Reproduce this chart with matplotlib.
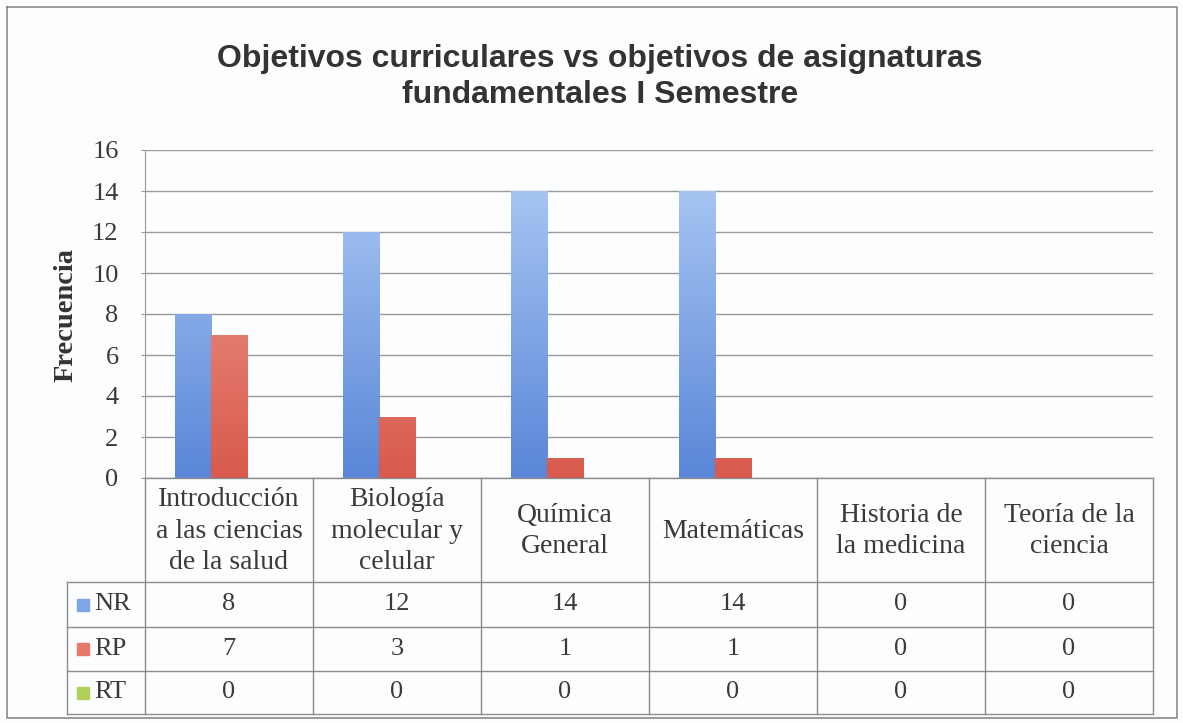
import matplotlib
matplotlib.use("Agg")
import matplotlib.pyplot as plt
import numpy as np
from matplotlib.colors import LinearSegmentedColormap

categories = ["Introducción\na las ciencias\nde la salud", "Biología\nmolecular y\ncelular",
              "Química\nGeneral", "Matemáticas", "Historia de\nla medicina", "Teoría de la\nciencia"]
series_names = ["NR", "RP", "RT"]
NR = [8, 12, 14, 14, 0, 0]
RP = [7, 3, 1, 1, 0, 0]
RT = [0, 0, 0, 0, 0, 0]
yticks = [0, 2, 4, 6, 8, 10, 12, 14, 16]
title = "Objetivos curriculares vs objetivos de asignaturas\nfundamentales I Semestre"
ylabel = "Frecuencia"

W, H = 1183, 723
bg = "#fbfdfe"
fig = plt.figure(figsize=(W / 100, H / 100), dpi=100, facecolor=bg)

def fx(px):
    return px / W

def fy(py):
    return 1 - py / H

serif = ["Liberation Serif", "DejaVu Serif"]
txtcol = "#3a3a3a"
gridcol = "#9a9a9a"

L, R, T, B = 145, 1153, 150, 478
ax = fig.add_axes([fx(L), fy(B), fx(R) - fx(L), fy(T) - fy(B)])
ax.set_facecolor(bg)
ax.set_xlim(-0.5, 5.5)
ax.set_ylim(0, 16)
ax.set_yticks(yticks)
ax.set_yticklabels([str(v) for v in yticks], fontfamily=serif, fontsize=19, color=txtcol)
ax.set_xticks([])
ax.tick_params(axis="y", length=3, color=gridcol, pad=16)
for s in ["top", "right", "bottom"]:
    ax.spines[s].set_visible(False)
ax.spines["left"].set_color(gridcol)
ax.yaxis.grid(True, color=gridcol, linewidth=1.0)
ax.set_axisbelow(True)

x = np.arange(len(categories))
bw = 0.215
data = [NR, RP, RT]
grads = [
    ["#5a86d8", "#b0cdf5"],
    ["#d85a4c", "#f2a59b"],
    ["#8fb83a", "#cde07a"],
]
solid = ["#7ea6e6", "#e8786c", "#b2d05a"]
for i, (vals, g) in enumerate(zip(data, grads)):
    offs = (i - 1) * bw
    bars = ax.bar(x + offs, vals, width=bw, color="none", edgecolor="none", zorder=3)
    cmap = LinearSegmentedColormap.from_list("g%d" % i, g)
    for b in bars:
        h = b.get_height()
        if h <= 0:
            continue
        x0 = b.get_x()
        grad = np.linspace(0, 1, 256).reshape(-1, 1)
        im = ax.imshow(grad, extent=[x0, x0 + b.get_width(), 0, 16], origin="lower",
                       aspect="auto", cmap=cmap, zorder=3)
        im.set_clip_path(b)
ax.set_xlim(-0.5, 5.5)
ax.set_ylim(0, 16)

# overlay axes for table and decorations (pixel coords)
ov = fig.add_axes([0, 0, 1, 1], facecolor="none")
ov.set_xlim(0, W)
ov.set_ylim(H, 0)
ov.axis("off")

# outer border
ov.plot([7, 1177, 1177, 7, 7], [7, 7, 718, 718, 7], color="#8a8a8a", lw=1.2)

fig.text(fx(600), fy(77), title, ha="center", va="center", fontfamily=["Liberation Sans", "DejaVu Sans"],
         fontweight="bold", fontsize=23, color="#333333", linespacing=1.3)
fig.text(fx(66), fy(315), ylabel, rotation=90, ha="center", va="center", fontfamily=serif,
         fontweight="bold", fontsize=20.5, color="#333333")

# table
rows_y = [478, 582, 627, 671, 714]
LL = 67
ncat = len(categories)
xs = [L + (R - L) * k / ncat for k in range(ncat + 1)]
tc = "#8c8c8c"
for k, xv in enumerate(xs):
    ov.plot([xv, xv], [rows_y[0], rows_y[-1]], color=tc, lw=1)
ov.plot([LL, LL], [rows_y[1], rows_y[-1]], color=tc, lw=1)
ov.plot([L, R], [rows_y[0], rows_y[0]], color=tc, lw=1)
for yv in rows_y[1:]:
    ov.plot([LL, R], [yv, yv], color=tc, lw=1)

for k, c in enumerate(categories):
    ov.text((xs[k] + xs[k + 1]) / 2, (rows_y[0] + rows_y[1]) / 2 + 1, c, ha="center", va="center",
            fontfamily=serif, fontsize=20, color=txtcol, linespacing=1.33)

for r, (name, vals) in enumerate(zip(series_names, data)):
    yc = (rows_y[r + 1] + rows_y[r + 2]) / 2
    ov.add_patch(plt.Rectangle((77, yc - 6), 12, 12, color=solid[r]))
    ov.text(94, yc, name, ha="left", va="center", fontfamily=serif, fontsize=19, color=txtcol)
    for k, v in enumerate(vals):
        ov.text((xs[k] + xs[k + 1]) / 2, yc, str(v), ha="center", va="center",
                fontfamily=serif, fontsize=19, color=txtcol)

fig.savefig("out.png", dpi=100, facecolor=bg)
